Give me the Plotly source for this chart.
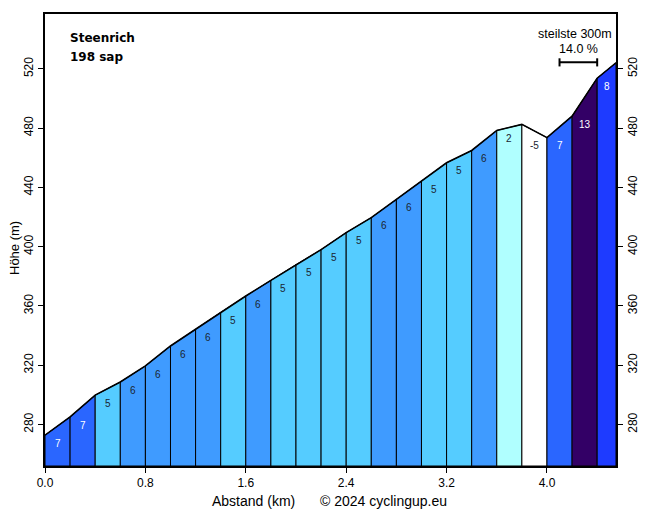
import plotly.graph_objects as go

# ---- data ----
dist_km = [0.0, 0.2, 0.4, 0.6, 0.8, 1.0, 1.2, 1.4, 1.6, 1.8, 2.0, 2.2,
           2.4, 2.6, 2.8, 3.0, 3.2, 3.4, 3.6, 3.8, 4.0, 4.2, 4.4, 4.55]
elev_m = [272.8, 285.1, 299.8, 308.7, 319.5, 333.0, 344.3, 355.7, 366.7,
          377.3, 387.9, 398.0, 409.5, 419.6, 431.9, 444.3, 456.6, 464.9,
          478.4, 482.5, 473.6, 488.1, 513.7, 524.1]
grades = [7, 7, 5, 6, 6, 6, 6, 5, 6, 5, 5, 5, 5, 6, 6, 5, 5, 6, 2, -5, 7, 13, 8]
grade_colors = {-5: "#FFFFFF", 2: "#B0FFFF", 5: "#55CCFF", 6: "#3F9BFF",
                7: "#2A66FF", 8: "#1E3BFF", 13: "#330066"}
x_ticks = [0.0, 0.8, 1.6, 2.4, 3.2, 4.0]
y_ticks = [280, 320, 360, 400, 440, 480, 520]
climb_name = "Steenrich"
climb_sub = "198 sap"
steep_start_km = 4.1
steep_len_km = 0.3
steep_grade = 14.0

y_min, y_max = 252, 557
x_max = dist_km[-1]

fig = go.Figure()

for i, g in enumerate(grades):
    x0, x1 = dist_km[i], dist_km[i + 1]
    e0, e1 = elev_m[i], elev_m[i + 1]
    fig.add_trace(go.Scatter(
        x=[x0, x0, x1, x1, x0], y=[y_min, e0, e1, y_min, y_min],
        mode="lines", fill="toself", fillcolor=grade_colors[g],
        line=dict(color="black", width=1), hoverinfo="skip", showlegend=False))

fig.add_trace(go.Scatter(x=dist_km, y=elev_m, mode="lines",
                         line=dict(color="black", width=1.6),
                         hoverinfo="skip", showlegend=False))

# invisible trace for right axis
fig.add_trace(go.Scatter(x=[0], y=[y_min], yaxis="y2", mode="markers",
                         marker=dict(opacity=0), hoverinfo="skip", showlegend=False))

# grade labels
for i, g in enumerate(grades):
    xc = (dist_km[i] + dist_km[i + 1]) / 2
    yc = min(elev_m[i], elev_m[i + 1]) - 5.5
    fig.add_annotation(x=xc, y=yc, text=str(g), showarrow=False,
                       font=dict(family="Liberation Sans, Arial", size=10,
                                 color="white" if g >= 7 else "#1a2430"),
                       xanchor="center", yanchor="middle")

# steepest 300 m marker
x_a, x_b = steep_start_km, steep_start_km + steep_len_km
bar_y = 0.893
fig.add_shape(type="line", xref="x", yref="paper", x0=x_a, x1=x_b, y0=bar_y, y1=bar_y,
              line=dict(color="black", width=2))
for xe in (x_a, x_b):
    fig.add_shape(type="line", xref="x", yref="paper", x0=xe, x1=xe,
                  y0=bar_y - 0.009, y1=bar_y + 0.009, line=dict(color="black", width=2))
fig.add_annotation(x=(x_a + x_b) / 2 - 0.03, xref="x", y=0.956, yref="paper",
                   text="steilste 300m", showarrow=False, xanchor="center", yanchor="middle",
                   font=dict(family="Liberation Sans, Arial", size=12.5, color="black"))
fig.add_annotation(x=(x_a + x_b) / 2, xref="x", y=0.9226, yref="paper",
                   text=f"{steep_grade:.1f} %", showarrow=False, xanchor="center", yanchor="middle",
                   font=dict(family="Liberation Sans, Arial", size=12.5, color="black"))

# title
fig.add_annotation(x=0.040, y=0.947, xref="paper", yref="paper", xanchor="left",
                   yanchor="middle", text=f"<b>{climb_name}</b>", showarrow=False,
                   font=dict(family="DejaVu Sans", size=12, color="black"))
fig.add_annotation(x=0.040, y=0.905, xref="paper", yref="paper", xanchor="left",
                   yanchor="middle", text=f"<b>{climb_sub}</b>", showarrow=False,
                   font=dict(family="DejaVu Sans", size=12, color="black"))

# axis titles / credit
fig.add_annotation(x=-31 / 571, y=(466 - 248) / 452, xref="paper", yref="paper",
                   xanchor="center", yanchor="middle",
                   text="Höhe (m)", textangle=-90, showarrow=False,
                   font=dict(family="Liberation Sans, Arial", size=13, color="black"))
fig.add_annotation(x=(253 - 45) / 571, y=-(501 - 466) / 452, xref="paper", yref="paper",
                   text="Abstand (km)", showarrow=False, xanchor="center", yanchor="middle",
                   font=dict(family="Liberation Sans, Arial", size=14, color="black"))
fig.add_annotation(x=(383 - 45) / 571, y=-(501 - 466) / 452, xref="paper", yref="paper",
                   text="© 2024 cyclingup.eu", showarrow=False, xanchor="center", yanchor="middle",
                   font=dict(family="Liberation Sans, Arial", size=14, color="black"))

tickfont = dict(family="Liberation Sans, Arial", size=12, color="black")
fig.update_layout(
    width=656, height=513,
    margin=dict(l=45, r=40, t=14, b=47),
    paper_bgcolor="white", plot_bgcolor="white",
    font=dict(family="Liberation Sans, Arial", color="black"),
    xaxis=dict(range=[0, x_max], tickvals=x_ticks, ticktext=[f"{v:.1f}" for v in x_ticks],
               ticks="outside", ticklen=5, tickwidth=1, tickcolor="black",
               showline=True, linewidth=2, linecolor="black", mirror=True,
               showgrid=False, zeroline=False, tickfont=tickfont),
    yaxis=dict(range=[y_min, y_max], tickvals=y_ticks, tickangle=-90,
               ticks="outside", ticklen=5, tickwidth=1, tickcolor="black",
               showline=True, linewidth=2, linecolor="black", mirror=True,
               showgrid=False, zeroline=False, tickfont=tickfont),
    yaxis2=dict(range=[y_min, y_max], tickvals=y_ticks, tickangle=-90, overlaying="y",
                side="right", ticks="outside", ticklen=5, tickwidth=1, tickcolor="black",
                showline=True, linewidth=2, linecolor="black",
                showgrid=False, zeroline=False, tickfont=tickfont),
)

fig.write_html("out.html", config={"displayModeBar": False},
               post_script="document.body.style.margin='0';")
